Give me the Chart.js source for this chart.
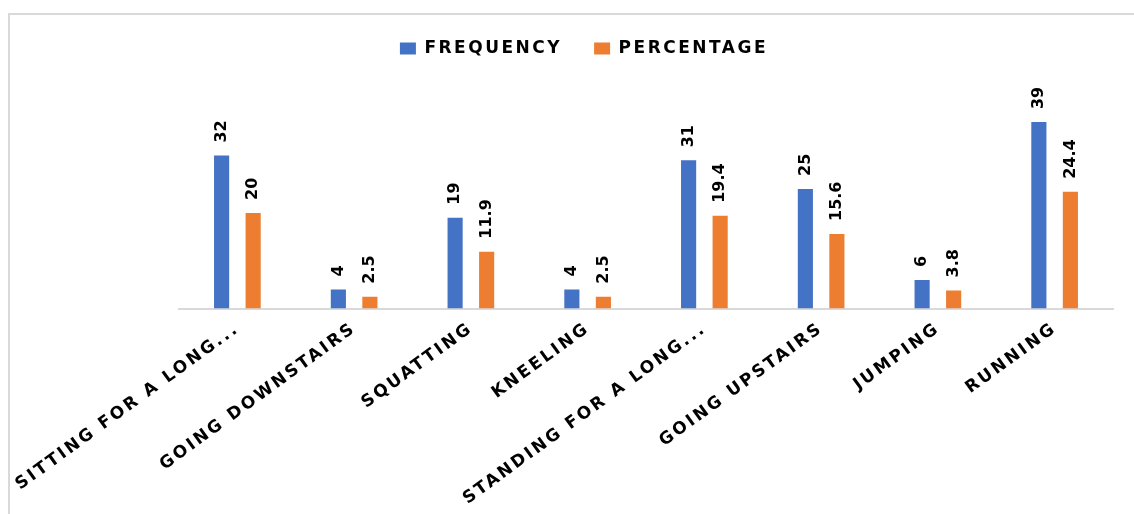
<!DOCTYPE html>
<html>
<head>
<meta charset="utf-8">
<title>Activities - Frequency and Percentage</title>
<script src="https://cdn.jsdelivr.net/npm/chart.js@4.4.0/dist/chart.umd.min.js"></script>
<style>
    html, body { margin: 0; padding: 0; background: #fff; overflow: hidden; }
    #chartBox {
        position: absolute;
        left: 8px;
        top: 13px;
        width: 1148px;
        height: 510px;
        border-left: 2px solid #d9d9d9;
        border-top: 2px solid #d9d9d9;
        background: #fff;
    }
    canvas { display: block; }
</style>
</head>
<body>
<div id="chartBox"><canvas id="activityChart"></canvas></div>
<script>
// Chart data
const categories = [
    'SITTING FOR A LONG...',
    'GOING DOWNSTAIRS',
    'SQUATTING',
    'KNEELING',
    'STANDING FOR A LONG...',
    'GOING UPSTAIRS',
    'JUMPING',
    'RUNNING'
];
const frequencyValues = [32, 4, 19, 4, 31, 25, 6, 39];
const percentageValues = [20, 2.5, 11.9, 2.5, 19.4, 15.6, 3.8, 24.4];

const LETTER_SPACING = '2.5px';
const FONT_FAMILY = "'DejaVu Sans', 'Open Sans', sans-serif";

// the Excel style spreads the capitals out, canvas needs it set on the context
const spacedCaps = {
    id: 'spacedCaps',
    beforeUpdate(chart) { chart.ctx.letterSpacing = LETTER_SPACING; },
    beforeDraw(chart) { chart.ctx.letterSpacing = LETTER_SPACING; }
};

// vertical value labels above each bar
const barValueLabels = {
    id: 'barValueLabels',
    afterDatasetsDraw(chart) {
        const ctx = chart.ctx;
        ctx.save();
        ctx.letterSpacing = '0px';
        ctx.font = 'bold 16px ' + FONT_FAMILY;
        ctx.fillStyle = '#000';
        ctx.textAlign = 'left';
        ctx.textBaseline = 'middle';
        chart.data.datasets.forEach((dataset, i) => {
            chart.getDatasetMeta(i).data.forEach((bar, j) => {
                ctx.save();
                ctx.translate(bar.x, bar.y - 13);
                ctx.rotate(-Math.PI / 2);
                ctx.fillText(String(dataset.data[j]), 0, 0);
                ctx.restore();
            });
        });
        ctx.restore();
    }
};

const ctx = document.getElementById('activityChart').getContext('2d');
const activityChart = new Chart(ctx, {
    type: 'bar',
    data: {
        labels: categories,
        datasets: [{
            label: 'FREQUENCY',
            data: frequencyValues,
            backgroundColor: '#4472C4',
            categoryPercentage: 0.54,
            barPercentage: 0.48
        }, {
            label: 'PERCENTAGE',
            data: percentageValues,
            backgroundColor: '#ED7D31',
            categoryPercentage: 0.54,
            barPercentage: 0.48
        }]
    },
    options: {
        responsive: true,
        maintainAspectRatio: false,
        animation: false,
        layout: {
            padding: { left: 0, right: 0, top: -7, bottom: 6 }
        },
        plugins: {
            legend: {
                position: 'top',
                labels: {
                    boxWidth: 16,
                    boxHeight: 12,
                    padding: 32,
                    color: '#000',
                    font: { family: FONT_FAMILY, size: 17, weight: 'bold' }
                }
            },
            tooltip: { enabled: false }
        },
        scales: {
            x: {
                grid: { display: false, drawTicks: false },
                border: { display: true, color: '#d9d9d9', width: 2 },
                ticks: {
                    color: '#000',
                    autoSkip: false,
                    minRotation: 36,
                    maxRotation: 36,
                    padding: 10,
                    font: { family: FONT_FAMILY, size: 17, weight: 'bold' }
                },
                // keep the plot inset like the original; the long first label hangs left of it
                afterFit(scale) {
                    scale.paddingLeft = 169;
                    scale.paddingRight = 45;
                }
            },
            y: {
                display: false,
                beginAtZero: true,
                max: 50.5
            }
        }
    },
    plugins: [spacedCaps, barValueLabels]
});
</script>
</body>
</html>
